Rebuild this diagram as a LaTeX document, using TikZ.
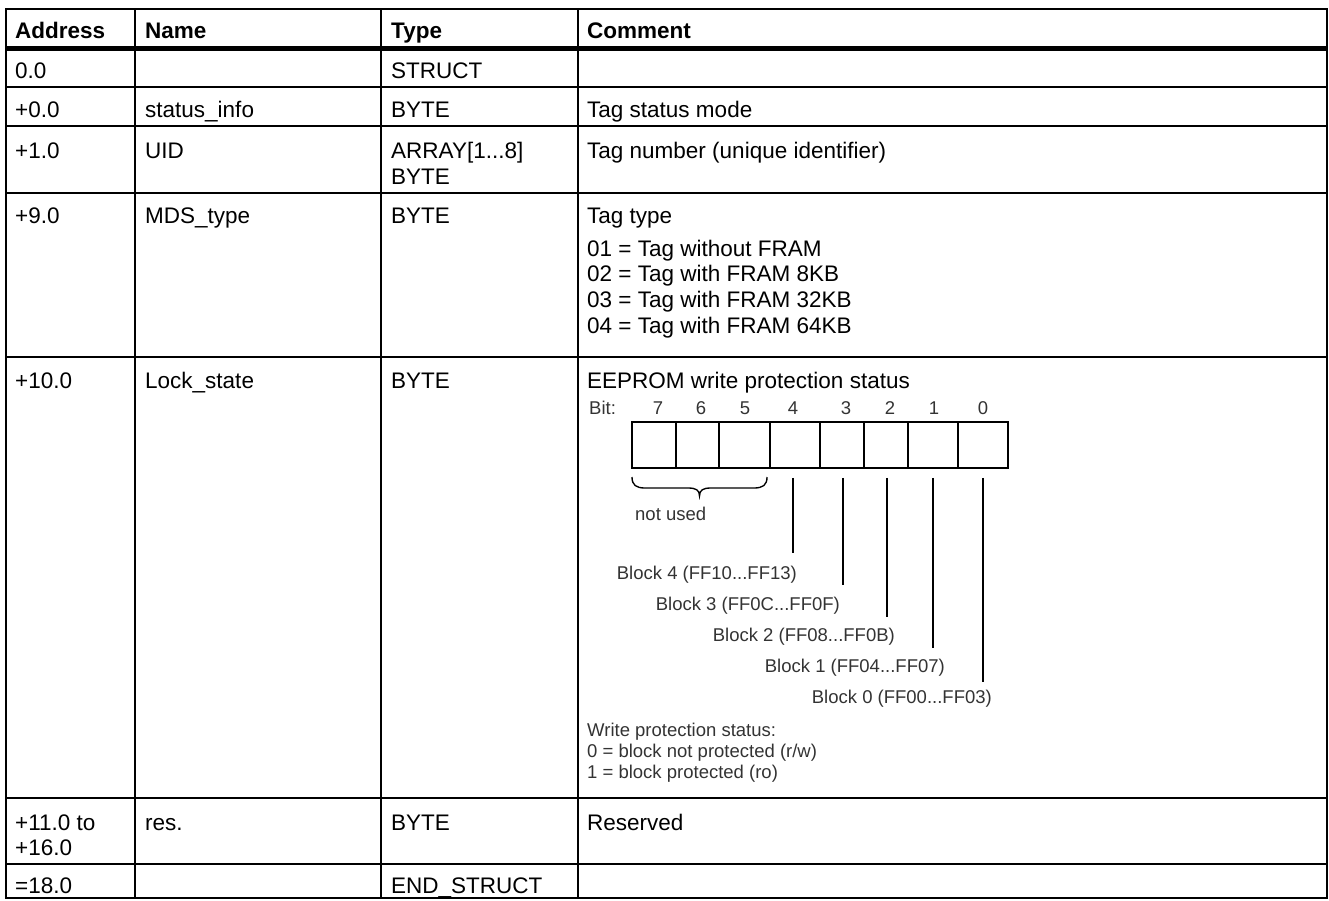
\documentclass[tikz,border=0pt]{standalone}
\usepackage{fontspec}
\setmainfont{Liberation Sans}
\begin{document}
\begin{tikzpicture}[x=1pt,y=-1pt,
  cell/.style={anchor=base west, inner sep=0pt, font=\fontsize{22.5}{26}\selectfont},
  head/.style={anchor=base west, inner sep=0pt, font=\fontsize{22.5}{26}\selectfont\bfseries},
  small/.style={anchor=base, inner sep=0pt, text=black!80, font=\fontsize{18.5}{21}\selectfont},
  smallw/.style={small, anchor=base west},
  smalle/.style={small, anchor=base east},
  rule/.style={line width=2.2pt},
  thickrule/.style={line width=5pt},
  bitcell/.style={draw, line width=1.9pt, minimum height=46pt, inner sep=0pt},
  conn/.style={line width=1.35pt}]
\useasboundingbox (0,0) rectangle (1329,900);

% table grid
\draw[rule] (6,9) rectangle (1327,898);
\foreach \x in {135,381,578} \draw[rule] (\x,9) -- (\x,898);
\foreach \y in {87,126,193,357,798,864} \draw[rule] (6,\y) -- (1327,\y);
\draw[thickrule] (6,48) -- (1327,48);

% header
\node[head] (hAddr) at (15,38) {Address};
\node[head] (hName) at (145,38) {Name};
\node[head] (hType) at (391,38) {Type};
\node[head] (hComm) at (587,38) {Comment};

% row 0.0
\node[cell] (a0) at (15,78) {0.0};
\node[cell] (t0) at (391,78) {STRUCT};

% row +0.0
\node[cell] (a1) at (15,117) {+0.0};
\node[cell] (n1) at (145,117) {status\_info};
\node[cell] (t1) at (391,117) {BYTE};
\node[cell] (c1) at (587,117) {Tag status mode};

% row +1.0
\node[cell] (a2) at (15,158) {+1.0};
\node[cell] (n2) at (145,158) {UID};
\node[cell] (t2) at (391,158) {ARRAY[1...8]};
\node[cell] (t2b) at (391,184) {BYTE};
\node[cell] (c2) at (587,158) {Tag number (unique identifier)};

% row +9.0
\node[cell] (a3) at (15,223) {+9.0};
\node[cell] (n3) at (145,223) {MDS\_type};
\node[cell] (t3) at (391,223) {BYTE};
\node[cell] (c3) at (587,223) {Tag type};
\node[cell] (c3a) at (587,256) {01 = Tag without FRAM};
\node[cell] (c3b) at (587,281) {02 = Tag with FRAM 8KB};
\node[cell] (c3c) at (587,307) {03 = Tag with FRAM 32KB};
\node[cell] (c3d) at (587,333) {04 = Tag with FRAM 64KB};

% row +10.0
\node[cell] (a4) at (15,388) {+10.0};
\node[cell] (n4) at (145,388) {Lock\_state};
\node[cell] (t4) at (391,388) {BYTE};
\node[cell] (c4) at (587,388) {EEPROM write protection status};

% bit diagram
\node[smallw] (bitlbl) at (589,414) {Bit:};
\node[small] (l7) at (658,414) {7};
\node[small] (l6) at (701,414) {6};
\node[small] (l5) at (745,414) {5};
\node[small] (l4) at (793,414) {4};
\node[small] (l3) at (846,414) {3};
\node[small] (l2) at (890,414) {2};
\node[small] (l1) at (934,414) {1};
\node[small] (l0) at (983,414) {0};

\node[bitcell, minimum width=44pt] (b7) at (654,445) {};
\node[bitcell, minimum width=43pt] (b6) at (697.5,445) {};
\node[bitcell, minimum width=51pt] (b5) at (744.5,445) {};
\node[bitcell, minimum width=50pt] (b4) at (795,445) {};
\node[bitcell, minimum width=44pt] (b3) at (842,445) {};
\node[bitcell, minimum width=44pt] (b2) at (886,445) {};
\node[bitcell, minimum width=50pt] (b1) at (933,445) {};
\node[bitcell, minimum width=50pt] (b0) at (983,445) {};

% brace for unused bits
\draw[conn] (632,477) .. controls (632,485) and (636,488) .. (645,488) -- (688,488)
  .. controls (696,488) and (699.5,490) .. (699.5,496)
  .. controls (699.5,490) and (703,488) .. (711,488) -- (754,488)
  .. controls (763,488) and (767,485) .. (767,477);
\node[smallw] (unused) at (635,520) {not used};

% block labels
\node[smalle] (k4) at (797,579) {Block 4 (FF10...FF13)};
\node[smalle] (k3) at (840,610) {Block 3 (FF0C...FF0F)};
\node[smalle] (k2) at (895,641) {Block 2 (FF08...FF0B)};
\node[smalle] (k1) at (945,672) {Block 1 (FF04...FF07)};
\node[smalle] (k0) at (992,703) {Block 0 (FF00...FF03)};

\draw[conn] ([yshift=-9pt,xshift=-2pt]b4.south) -- ([xshift=-2pt]b4.south |- 0,553);
\draw[conn] ([yshift=-9pt,xshift=1pt]b3.south) -- ([xshift=1pt]b3.south |- 0,585);
\draw[conn] ([yshift=-9pt,xshift=1pt]b2.south) -- ([xshift=1pt]b2.south |- 0,617);
\draw[conn] ([yshift=-9pt]b1.south) -- (b1.south |- 0,648);
\draw[conn] ([yshift=-9pt]b0.south) -- (b0.south |- 0,682);

\node[smallw] (wp) at (587,736) {Write protection status:};
\node[smallw] (wp0) at (587,757) {0 = block not protected (r/w)};
\node[smallw] (wp1) at (587,778) {1 = block protected (ro)};

% row +11.0
\node[cell] (a5) at (15,830) {+11.0 to};
\node[cell] (a5b) at (15,855) {+16.0};
\node[cell] (n5) at (145,830) {res.};
\node[cell] (t5) at (391,830) {BYTE};
\node[cell] (c5) at (587,830) {Reserved};

% row =18.0
\node[cell] (a6) at (15,893) {=18.0};
\node[cell] (t6) at (391,893) {END\_STRUCT};
\end{tikzpicture}
\end{document}
